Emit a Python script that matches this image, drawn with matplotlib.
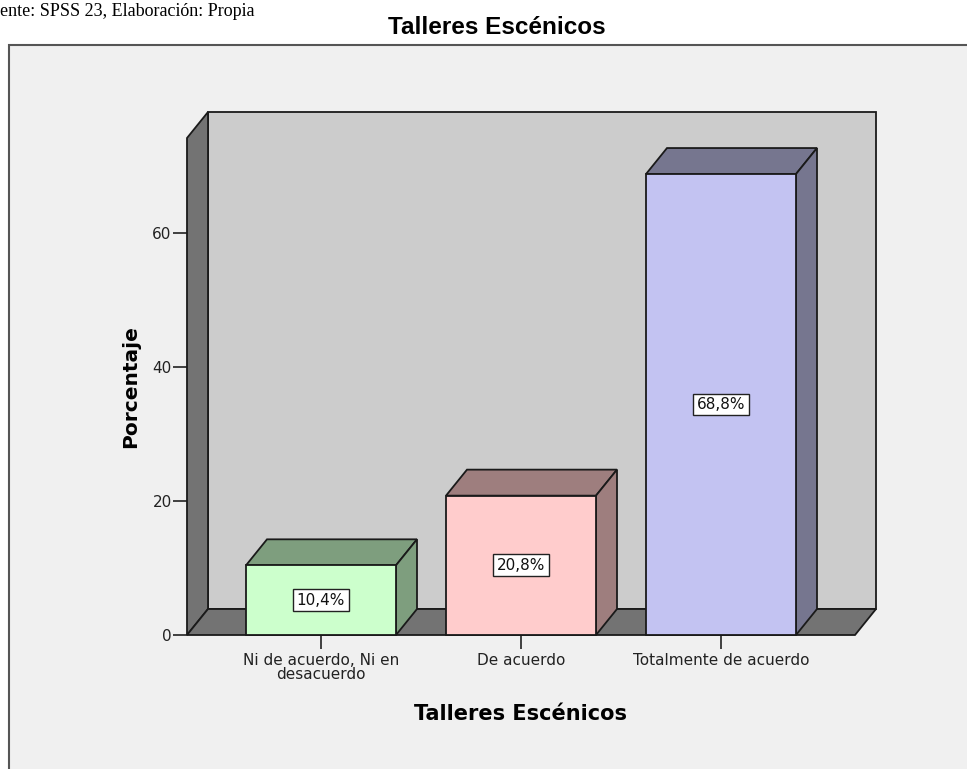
import matplotlib
matplotlib.use("Agg")
import matplotlib.pyplot as plt
from matplotlib.patches import Polygon, Rectangle

categories = ["Ni de acuerdo, Ni en\ndesacuerdo", "De acuerdo", "Totalmente de acuerdo"]
values = [10.4, 20.8, 68.8]
value_labels = ["10,4%", "20,8%", "68,8%"]
yticks = [0, 20, 40, 60]
title = "Talleres Escénicos"
xlabel = "Talleres Escénicos"
ylabel = "Porcentaje"
source = "ente: SPSS 23, Elaboración: Propia"

front_colors = ["#CCFFCC", "#FFCCCC", "#C3C3F2"]
side_colors = ["#7E9E7E", "#9E7E7E", "#76768F"]
wall_color = "#CCCCCC"
floor_color = "#737373"
bg = "#F0F0F0"

W, H = 967, 769
fig = plt.figure(figsize=(W / 100, H / 100), dpi=100)
fig.patch.set_facecolor("white")

# outer frame (extends beyond the image right/bottom)
frame = Rectangle((9 / W, -0.1), 1.2, (H - 45) / H + 0.1, transform=fig.transFigure,
                  facecolor=bg, edgecolor="#555555", linewidth=1.5, zorder=-5)
fig.patches.append(frame)

# axes at the front plane
x0, x1 = 187, 855
y0, ytop = 635, 138
ax = fig.add_axes([x0 / W, (H - y0) / H, (x1 - x0) / W, (y0 - ytop) / H])
ax.set_zorder(2)
ax.set_facecolor("none")
px_per_unit_y = (634 - 232) / 60.0
xmin = -(321 - x0) / 200.0
xmax = 2 + (x1 - 721) / 200.0
ymax = (y0 - ytop) / px_per_unit_y
ax.set_xlim(xmin, xmax)
ax.set_ylim(0, ymax)
for s in ax.spines.values():
    s.set_visible(False)

dx = 21 / 200.0
dy = 26 / px_per_unit_y
lw = 1.3
ec = "#1a1a1a"

def poly(pts, fc, z):
    ax.add_patch(Polygon(pts, closed=True, facecolor=fc, edgecolor=ec,
                         linewidth=lw, zorder=z, clip_on=False, joinstyle="miter"))

# back wall
poly([(xmin + dx, dy), (xmax + dx, dy), (xmax + dx, ymax + dy), (xmin + dx, ymax + dy)], wall_color, 1)
# left wall
poly([(xmin, 0), (xmin + dx, dy), (xmin + dx, ymax + dy), (xmin, ymax)], floor_color, 2)
# floor
poly([(xmin, 0), (xmax, 0), (xmax + dx, dy), (xmin + dx, dy)], floor_color, 2)

bw = 0.75
for i, (v, lab) in enumerate(zip(values, value_labels)):
    l, r = i - bw / 2, i + bw / 2
    poly([(l, v), (r, v), (r + dx, v + dy), (l + dx, v + dy)], side_colors[i], 3)
    poly([(r, 0), (r + dx, dy), (r + dx, v + dy), (r, v)], side_colors[i], 3)
    poly([(l, 0), (r, 0), (r, v), (l, v)], front_colors[i], 4)
    ax.text(i, v / 2, lab, ha="center", va="center", fontsize=11, family="DejaVu Sans",
            color="#111111", zorder=6,
            bbox=dict(boxstyle="square,pad=0.22", facecolor="white", edgecolor="#222222", linewidth=1.0))

ax.set_xticks(range(len(categories)))
ax.set_xticklabels(categories, fontsize=11, family="DejaVu Sans", color="#222222", linespacing=0.92)
ax.set_yticks(yticks)
ax.set_yticklabels([str(t) for t in yticks], fontsize=11, family="DejaVu Sans", color="#222222")
ax.tick_params(axis="both", length=10, width=1.2, color="#222222", pad=1)
ax.tick_params(axis="x", pad=3)

ax.set_xlabel(xlabel, fontsize=15, fontweight="bold", family="DejaVu Sans", labelpad=16)
ax.set_ylabel(ylabel, fontsize=14.5, fontweight="bold", family="DejaVu Sans", labelpad=9)

fig.text(497 / W, 1 - 28 / H, title, ha="center", va="center", fontsize=17.5,
         fontweight="bold", family="Liberation Sans")
fig.text(0, 1 - 16 / H, source, ha="left", va="baseline", fontsize=13, family="Liberation Serif")

fig.savefig("out.png", dpi=100, facecolor=fig.get_facecolor())
